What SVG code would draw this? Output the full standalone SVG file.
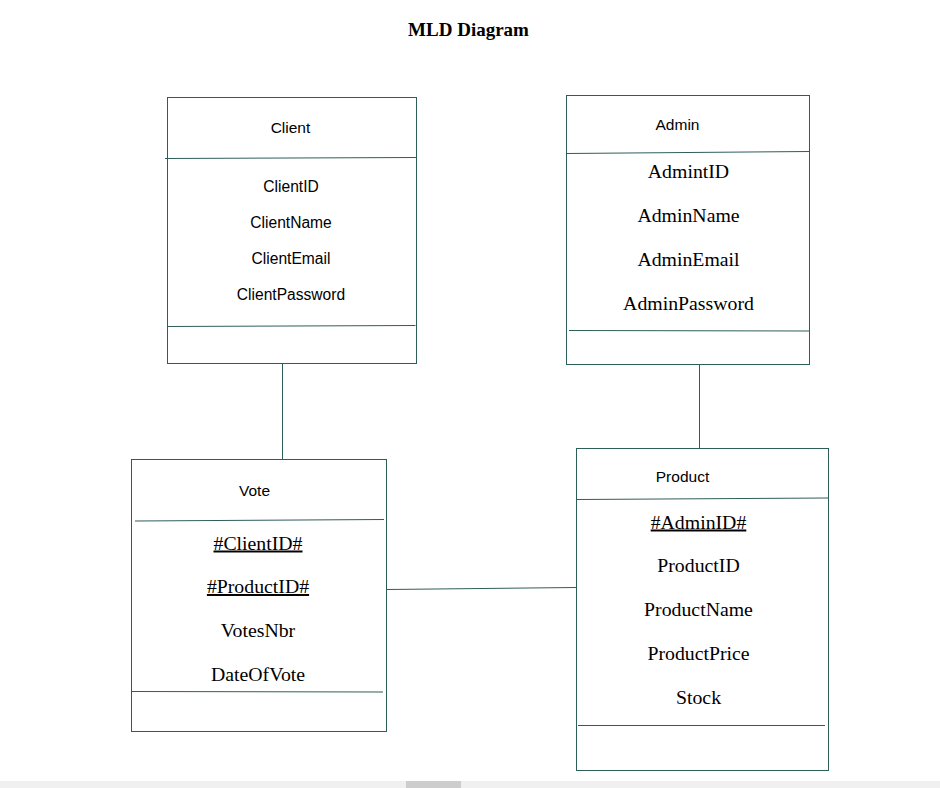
<svg xmlns="http://www.w3.org/2000/svg" width="940" height="788" viewBox="0 0 940 788">
<style>
.box{fill:#fff;stroke:#2e5e58;stroke-width:1}
.ln{stroke:#2e5e58;stroke-width:1;fill:none}
.hd{font-family:"Liberation Sans",Arial,sans-serif;font-size:15.5px;fill:#000;text-anchor:middle}
.at{font-family:"Liberation Sans",Arial,sans-serif;font-size:15.6px;fill:#000;text-anchor:middle}
.tm{font-family:"Liberation Serif","Times New Roman",serif;font-size:19.8px;fill:#000;text-anchor:middle}
.u{text-decoration:underline}
.title{font-family:"Liberation Serif","Times New Roman",serif;font-size:19px;font-weight:bold;fill:#000;text-anchor:middle}
</style>
<rect width="940" height="788" fill="#fff"/>
<text class="title" x="468.5" y="36">MLD Diagram</text>
<g id="connectors">
<line class="ln" x1="282.5" y1="363.5" x2="282.5" y2="459.5"/>
<line class="ln" x1="699.5" y1="364.5" x2="699.5" y2="448.5"/>
<line class="ln" x1="387" y1="589.5" x2="576" y2="587.5"/>
</g>
<g id="client">
<rect class="box" x="167.5" y="97.5" width="249" height="266"/>
<line class="ln" x1="165" y1="158.5" x2="416.5" y2="157.5"/>
<line class="ln" x1="167.5" y1="326.5" x2="415.5" y2="325.5"/>
<text class="hd" x="290.5" y="133">Client</text>
<text class="at" x="291" y="192">ClientID</text>
<text class="at" x="291" y="228">ClientName</text>
<text class="at" x="291" y="264">ClientEmail</text>
<text class="at" x="291" y="300">ClientPassword</text>
</g>
<g id="admin">
<rect class="box" x="566.5" y="95.5" width="243" height="269"/>
<line class="ln" x1="566.5" y1="153.5" x2="809.5" y2="151.5"/>
<line class="ln" x1="569" y1="330.5" x2="809.5" y2="331"/>
<text class="hd" x="677.5" y="129.5">Admin</text>
<text class="tm" x="688.5" y="178">AdmintID</text>
<text class="tm" x="688.5" y="222">AdminName</text>
<text class="tm" x="688.5" y="266">AdminEmail</text>
<text class="tm" x="688.5" y="310">AdminPassword</text>
</g>
<g id="vote">
<rect class="box" x="131.5" y="459.5" width="255" height="272"/>
<line class="ln" x1="135" y1="521" x2="384" y2="519.5"/>
<line class="ln" x1="131.5" y1="691.5" x2="383" y2="692"/>
<text class="hd" x="254.5" y="496">Vote</text>
<text class="tm u" x="258" y="549.5">#ClientID#</text>
<text class="tm u" x="258" y="593">#ProductID#</text>
<text class="tm" x="258" y="637">VotesNbr</text>
<text class="tm" x="258" y="680.5">DateOfVote</text>
</g>
<g id="product">
<rect class="box" x="576.5" y="448.5" width="252" height="322"/>
<line class="ln" x1="576.5" y1="499.5" x2="828" y2="498"/>
<line class="ln" x1="578" y1="725.5" x2="825" y2="725.5"/>
<text class="hd" x="682.5" y="482">Product</text>
<text class="tm u" x="698.5" y="528.5">#AdminID#</text>
<text class="tm" x="698.5" y="572">ProductID</text>
<text class="tm" x="698.5" y="616">ProductName</text>
<text class="tm" x="698.5" y="660">ProductPrice</text>
<text class="tm" x="698.5" y="704">Stock</text>
</g>
<rect x="0" y="781" width="940" height="7" fill="#f0f0f0"/>
<rect x="406" y="781" width="55" height="7" fill="#cdcdcd"/>
</svg>
